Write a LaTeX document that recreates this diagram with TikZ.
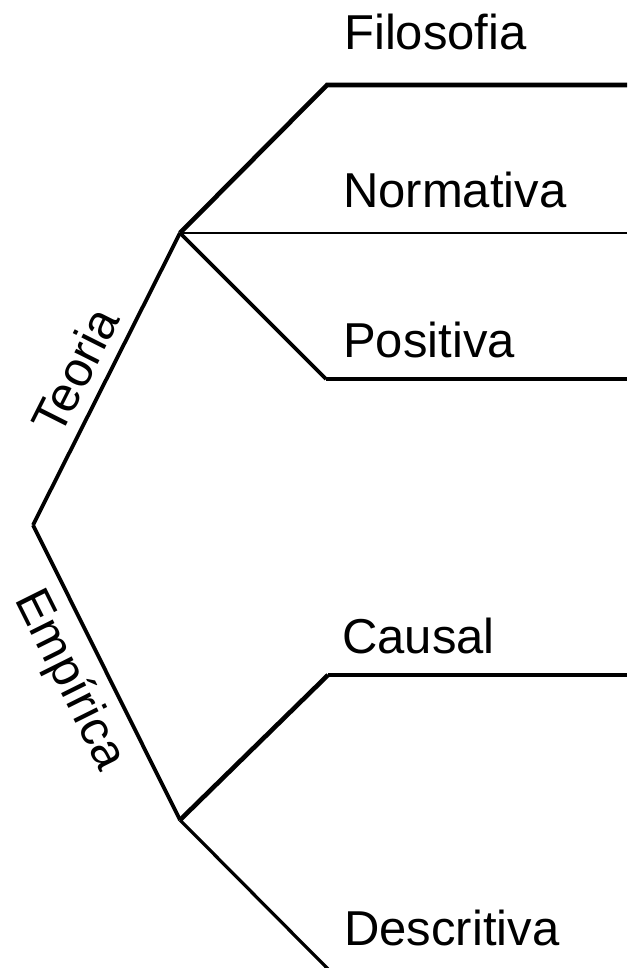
\documentclass[tikz,border=0pt]{standalone}
\usepackage{fontspec}
\setmainfont{Liberation Sans}
\begin{document}
\begin{tikzpicture}[x=1pt,y=-1pt,
  lbl/.style={font=\fontsize{49}{56}\selectfont, inner sep=0pt, anchor=base west},
  slbl/.style={font=\fontsize{49}{56}\selectfont, sloped, inner sep=12pt},
  thickln/.style={line width=4.6pt},
  midln/.style={line width=3.8pt},
  thinln/.style={line width=2.2pt}]
\useasboundingbox[fill=white] (0,0) rectangle (627,968);
% junctions and bends
\coordinate (root) at (33,525);
\coordinate (teo) at (180,233);
\coordinate (emp) at (180,820);
\coordinate (filoB) at (327,85);
\coordinate (filoE) at (627,85);
\coordinate (normE) at (627,233);
\coordinate (posB) at (326,379);
\coordinate (posE) at (627,379);
\coordinate (causB) at (328,675);
\coordinate (causE) at (627,675);
\coordinate (descB) at (328,969);
% labels
\node[lbl] (filo) at (344,50) {Filosofia};
\node[lbl] (norm) at (343,208) {Normativa};
\node[lbl] (pos) at (343,357) {Positiva};
\node[lbl] (caus) at (342,653) {Causal};
\node[lbl] (desc) at (344,945) {Descritiva};
% connectors
\draw[midln] (root) -- node[slbl, pos=0.48, above] (teol) {Teoria} (teo);
\draw[midln] (root) -- node[slbl, pos=0.47, below] (empl) {Empírica} (emp);
\draw[thickln] (teo) -- (filoB) -- (filoE);
\draw[thinln] (teo) -- (normE);
\draw[midln] (teo) -- (posB);
\draw[thickln] (posB) -- (posE);
\draw[thickln] (emp) -- (causB);
\draw[line width=3.2pt] (causB) -- (causE);
\draw[line width=3.2pt] (emp) -- (descB);
\end{tikzpicture}
\end{document}
